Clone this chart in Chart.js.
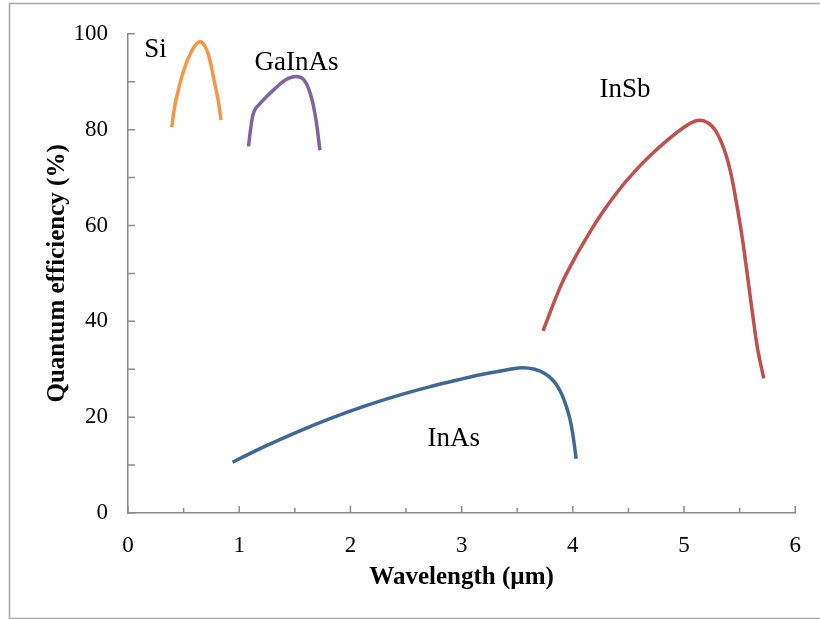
<!DOCTYPE html>
<html>
<head>
<meta charset="utf-8">
<script src="https://cdn.jsdelivr.net/npm/chart.js@4/dist/chart.umd.min.js"></script>
<style>
  html, body { margin: 0; padding: 0; background: #ffffff; }
  #wrap { width: 820px; height: 619px; position: relative; }
</style>
</head>
<body>
<div id="wrap"><canvas id="c" width="820" height="619"></canvas></div>
<script>
// ---- data (wavelength µm, quantum efficiency %) ----
const siData = [[0.394,80.5],[0.418,84.6],[0.457,88.7],[0.508,92.8],[0.568,96.2],[0.636,98.3],[0.687,97.6],[0.732,94.9],[0.776,90.1],[0.812,86.0],[0.836,82.0]];
const gainasData = [[1.084,76.5],[1.105,80.5],[1.135,83.9],[1.209,86.0],[1.314,88.4],[1.418,90.4],[1.508,91.1],[1.582,90.4],[1.642,87.3],[1.687,82.5],[1.726,75.7]];
const insbData = [[3.732,38.0],[3.895,47.6],[4.015,53.1],[4.135,57.9],[4.254,62.3],[4.404,67.1],[4.553,71.2],[4.701,74.7],[4.851,77.8],[5.000,80.5],[5.120,81.9],[5.209,81.5],[5.283,79.8],[5.359,76.0],[5.418,71.2],[5.463,65.8],[5.523,57.5],[5.583,47.3],[5.625,40.0],[5.665,33.8],[5.717,28.1]];
const inasData = [[0.940,10.6],[1.240,14.0],[1.540,17.1],[1.840,19.9],[2.140,22.4],[2.440,24.6],[2.740,26.5],[2.970,27.8],[3.179,28.9],[3.389,29.8],[3.537,30.3],[3.657,30.0],[3.747,29.1],[3.821,27.7],[3.881,25.7],[3.926,23.3],[3.971,19.9],[4.000,16.4],[4.030,11.3]];
const seriesNames = ["Si", "GaInAs", "InSb", "InAs"];
const seriesColors = ["#F79646", "#8064A2", "#C0504D", "#3F6896"];
// label anchors in data units (wavelength, efficiency)
const labelX = [0.247, 1.516, 4.47, 2.93];
const labelY = [95.1, 92.4, 86.8, 14.0];
const xTitle = "Wavelength (µm)";
const yTitle = "Quantum efficiency (%)";

const toPts = arr => arr.map(p => ({x: p[0], y: p[1]}));
const allData = [siData, gainasData, insbData, inasData];

const serif = "'Liberation Serif', 'Times New Roman', serif";
const axisGrey = '#8a8a8a';

const framePlugin = {
  id: 'frame',
  beforeDraw(chart) {
    const ctx = chart.ctx;
    ctx.save();
    ctx.fillStyle = '#ffffff';
    ctx.fillRect(0, 0, chart.width, chart.height);
    ctx.strokeStyle = '#a6a6a6';
    ctx.lineWidth = 1.5;
    ctx.strokeRect(9.5, 3.5, chart.width + 60, chart.height - 4);
    ctx.restore();
  }
};

// inward tick marks, placed from the scales' own ticks
const innerTicks = {
  id: 'innerTicks',
  afterDraw(chart) {
    const ctx = chart.ctx;
    const xs = chart.scales.x, ys = chart.scales.y;
    const a = chart.chartArea;
    ctx.save();
    ctx.strokeStyle = axisGrey;
    ctx.lineWidth = 1.5;
    ctx.beginPath();
    xs.ticks.forEach(t => {
      const px = xs.getPixelForValue(t.value);
      const major = Math.abs(t.value - Math.round(t.value)) < 1e-9;
      ctx.moveTo(px, a.bottom);
      ctx.lineTo(px, a.bottom - (major ? 7 : 5));
    });
    ys.ticks.forEach(t => {
      const py = ys.getPixelForValue(t.value);
      ctx.moveTo(a.left, py);
      ctx.lineTo(a.left + 7, py);
    });
    ctx.stroke();
    ctx.restore();
  }
};

const labelPlugin = {
  id: 'seriesLabels',
  afterDatasetsDraw(chart) {
    const ctx = chart.ctx;
    const xs = chart.scales.x, ys = chart.scales.y;
    ctx.save();
    ctx.fillStyle = '#000000';
    ctx.font = "27px " + serif;
    ctx.textAlign = 'center';
    ctx.textBaseline = 'alphabetic';
    seriesNames.forEach((n, i) => {
      ctx.fillText(n, xs.getPixelForValue(labelX[i]), ys.getPixelForValue(labelY[i]));
    });
    ctx.restore();
  }
};

new Chart(document.getElementById('c'), {
  type: 'scatter',
  data: {
    datasets: allData.map((d, i) => ({
      label: seriesNames[i],
      data: toPts(d),
      showLine: true,
      borderColor: seriesColors[i],
      backgroundColor: seriesColors[i],
      borderWidth: 3.5,
      pointRadius: 0,
      tension: 0.4,
      borderCapStyle: 'butt'
    }))
  },
  options: {
    responsive: false,
    animation: false,
    layout: { padding: { top: 27, right: 22, left: 43, bottom: 0 } },
    plugins: { legend: { display: false }, tooltip: { enabled: false } },
    scales: {
      x: {
        type: 'linear',
        min: 0, max: 6,
        border: { display: true, color: axisGrey, width: 1.5 },
        grid: { display: false, drawOnChartArea: false, drawTicks: false },
        ticks: {
          stepSize: 0.5,
          padding: 19,
          color: '#000000',
          font: { family: serif, size: 23 },
          maxRotation: 0,
          autoSkip: false,
          callback: v => (Math.abs(v - Math.round(v)) < 1e-9 ? String(Math.round(v)) : '')
        },
        title: { display: true, text: xTitle, color: '#000000', font: { family: serif, size: 25, weight: 'bold' }, padding: { top: 0, bottom: 26 } },
        afterFit: s => { s.height = 106; }
      },
      y: {
        type: 'linear',
        min: 0, max: 100,
        border: { display: true, color: axisGrey, width: 1.5 },
        grid: { display: false, drawOnChartArea: false, drawTicks: false },
        ticks: {
          stepSize: 10,
          padding: 20,
          color: '#000000',
          font: { family: serif, size: 23 },
          autoSkip: false,
          callback: v => (Math.round(v) % 20 === 0 ? String(Math.round(v)) : '')
        },
        title: { display: true, text: yTitle, color: '#000000', font: { family: serif, size: 25, weight: 'bold' }, padding: { top: 0, bottom: 0 } },
        afterFit: s => { s.width = 85; }
      }
    }
  },
  plugins: [framePlugin, innerTicks, labelPlugin]
});
</script>
</body>
</html>
